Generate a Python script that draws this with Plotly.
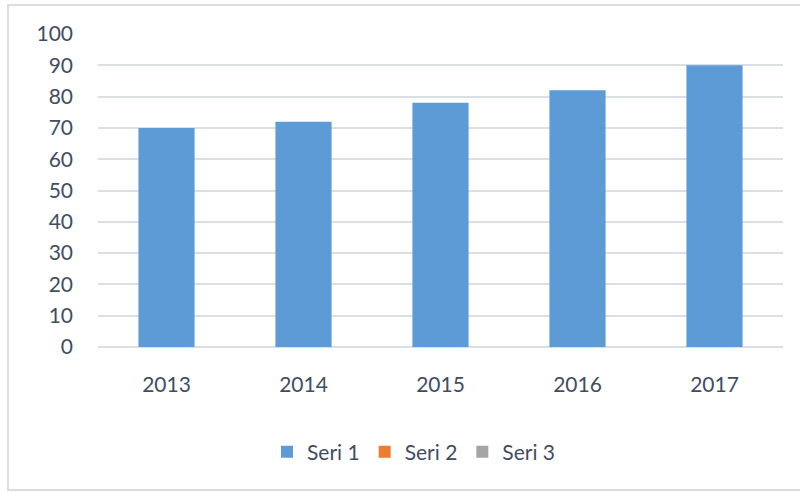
import plotly.graph_objects as go

years = ["2013", "2014", "2015", "2016", "2017"]
seri1 = [70, 72, 78, 82, 90]
seri2 = [None, None, None, None, None]
seri3 = [None, None, None, None, None]
series_names = ["Seri 1", "Seri 2", "Seri 3"]
series_colors = ["#5d9bd7", "#ed7d31", "#a5a5a5"]
y_ticks = [0, 10, 20, 30, 40, 50, 60, 70, 80, 90, 100]

FONT = "Lato, 'Open Sans', sans-serif"
TXT = "#3f4d62"

fig = go.Figure()
for name, vals, col in zip(series_names, [seri1, seri2, seri3], series_colors):
    fig.add_trace(go.Bar(x=years, y=vals, name=name, marker=dict(color=col, line=dict(width=0)),
                         width=0.41, showlegend=True))

L, R, T, B = 98, 17, 34, 145
W, H = 800, 492
pw, ph = W - L - R, H - T - B

fig.update_layout(
    width=W, height=H,
    margin=dict(l=L, r=R, t=T, b=B),
    barmode="overlay",
    paper_bgcolor="white", plot_bgcolor="white",
    font=dict(family=FONT, size=21, color=TXT),
    xaxis=dict(showgrid=False, showline=False, zeroline=False, ticks="",
               ticklabelstandoff=23, tickfont=dict(size=21, color=TXT)),
    yaxis=dict(range=[0, 100], tickvals=y_ticks, showgrid=True, gridcolor="#dadfe6", gridwidth=2,
               zeroline=True, zerolinecolor="#dadfe6", zerolinewidth=2, showline=False, ticks="",
               ticklabelstandoff=24, tickfont=dict(size=21, color=TXT)),
    legend=dict(orientation="h", x=(414 - L) / pw, xanchor="center", y=(T + ph - 452) / ph,
                yanchor="middle", font=dict(size=21, color=TXT), itemwidth=30,
                traceorder="normal", bgcolor="rgba(0,0,0,0)"),
    showlegend=True,
)

# chart-area border (light gray, left/top/bottom)
fig.add_shape(type="rect", xref="paper", yref="paper",
              x0=(8 - L) / pw, x1=(W + 20 - L) / pw,
              y0=(T + ph - 490) / ph, y1=(T + ph - 5) / ph,
              line=dict(color="#d9dde3", width=2), fillcolor="rgba(0,0,0,0)", layer="below")

fig.write_html("out.html", config={"displayModeBar": False},
               post_script="document.body.style.margin='0';document.body.style.overflow='hidden';")
